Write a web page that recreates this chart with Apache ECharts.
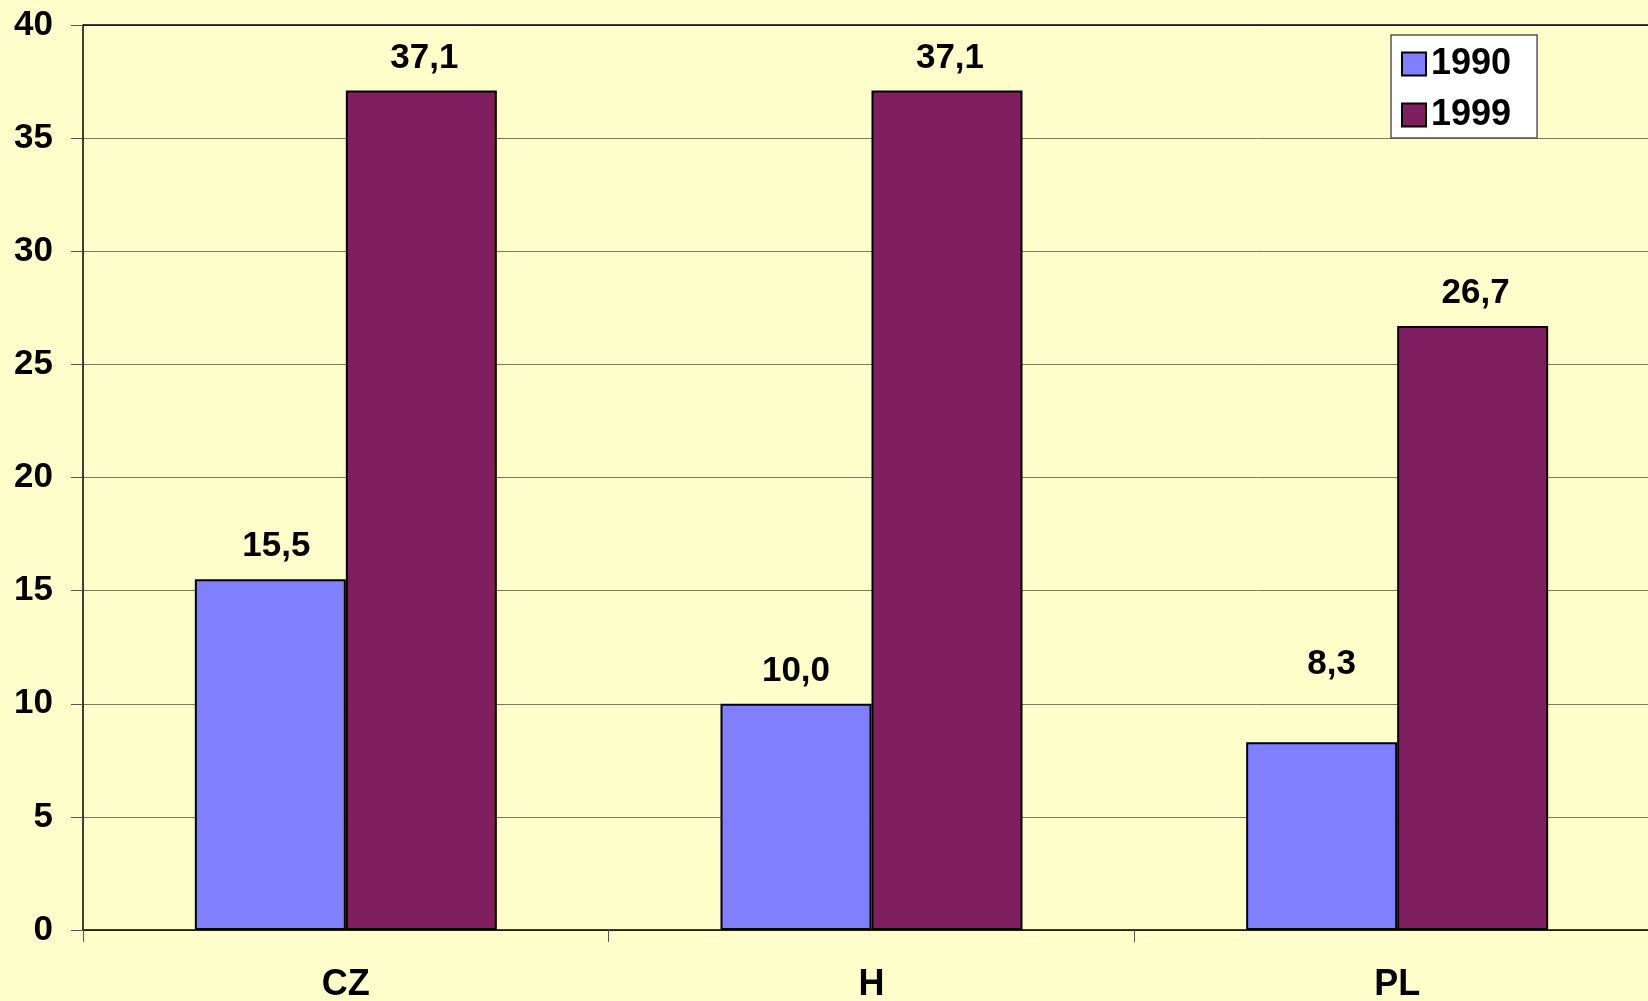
<!DOCTYPE html>
<html><head><meta charset="utf-8">
<script src="https://cdn.jsdelivr.net/npm/echarts@6/dist/echarts.min.js"></script>
<style>html,body{margin:0;padding:0;background:#FFFFCC;}#c{width:1648px;height:1001px;}</style>
</head><body><div id="c"></div>
<script>
const categories = ['CZ', 'H', 'PL'];
const seriesNames = ['1990', '1999'];
const values1990 = [15.5, 10.0, 8.3];
const values1999 = [37.1, 37.1, 26.7];
const yTicks = { min: 0, max: 40, interval: 5 };

const font = 'Liberation Sans, Arial, sans-serif';
const fmt = p => p.value.toFixed(1).replace('.', ',');
const labelBase = { show: true, position: 'top', distance: 15, formatter: fmt, color: '#000', fontWeight: 'bold', fontSize: 35, fontFamily: font };
// label tweaks (style only) per data index for 1990 series
const labelTweaks1990 = [{ offset: [6, 0] }, {}, { distance: 60, offset: [10, 0] }];

const chart = echarts.init(document.getElementById('c'), null, { renderer: 'canvas' });
chart.setOption({
  backgroundColor: '#FFFFCC',
  animation: false,
  grid: { left: 83, top: 25, height: 905, width: 1577, show: false, outerBoundsMode: 'none', containLabel: false },
  legend: {
    data: seriesNames, orient: 'vertical', left: 1391, top: 35,
    backgroundColor: '#fff', borderColor: '#555', borderWidth: 1.5,
    padding: [11, 26, 5, 10], itemWidth: 24, itemHeight: 23, itemGap: 15,
    icon: 'rect',
    textStyle: { fontSize: 36, fontWeight: 'bold', color: '#000', fontFamily: font }
  },
  xAxis: {
    type: 'category', data: categories,
    axisLine: { lineStyle: { color: '#000', width: 1.5 } },
    axisTick: { show: true, length: 12, lineStyle: { color: '#555' } },
    axisLabel: { margin: 37, fontSize: 36, fontWeight: 'bold', color: '#000', fontFamily: font }
  },
  yAxis: {
    type: 'value', min: yTicks.min, max: yTicks.max, interval: yTicks.interval,
    axisLine: { show: true, lineStyle: { color: '#000', width: 1.5 } },
    axisTick: { show: true, length: 12, lineStyle: { color: '#555' } },
    splitLine: { lineStyle: { color: '#7a7a5a', width: 1 } },
    axisLabel: { margin: 30, fontSize: 35, fontWeight: 'bold', color: '#000', fontFamily: font }
  },
  series: [
    {
      name: seriesNames[0], type: 'bar', barWidth: 151, barGap: '0%',
      itemStyle: { color: '#8080FF', borderColor: '#000', borderWidth: 2 },
      label: labelBase,
      data: values1990.map((v, i) => ({ value: v, label: labelTweaks1990[i] }))
    },
    {
      name: seriesNames[1], type: 'bar', barWidth: 151, barGap: '0%',
      itemStyle: { color: '#7F1F5F', borderColor: '#000', borderWidth: 2 },
      label: Object.assign({}, labelBase, { offset: [3, 0] }),
      data: values1999
    }
  ],
  graphic: [{ type: 'line', shape: { x1: 83, y1: 25, x2: 1648, y2: 25 }, style: { stroke: '#000', lineWidth: 1.5 }, z: 10 }]
});
</script></body></html>
